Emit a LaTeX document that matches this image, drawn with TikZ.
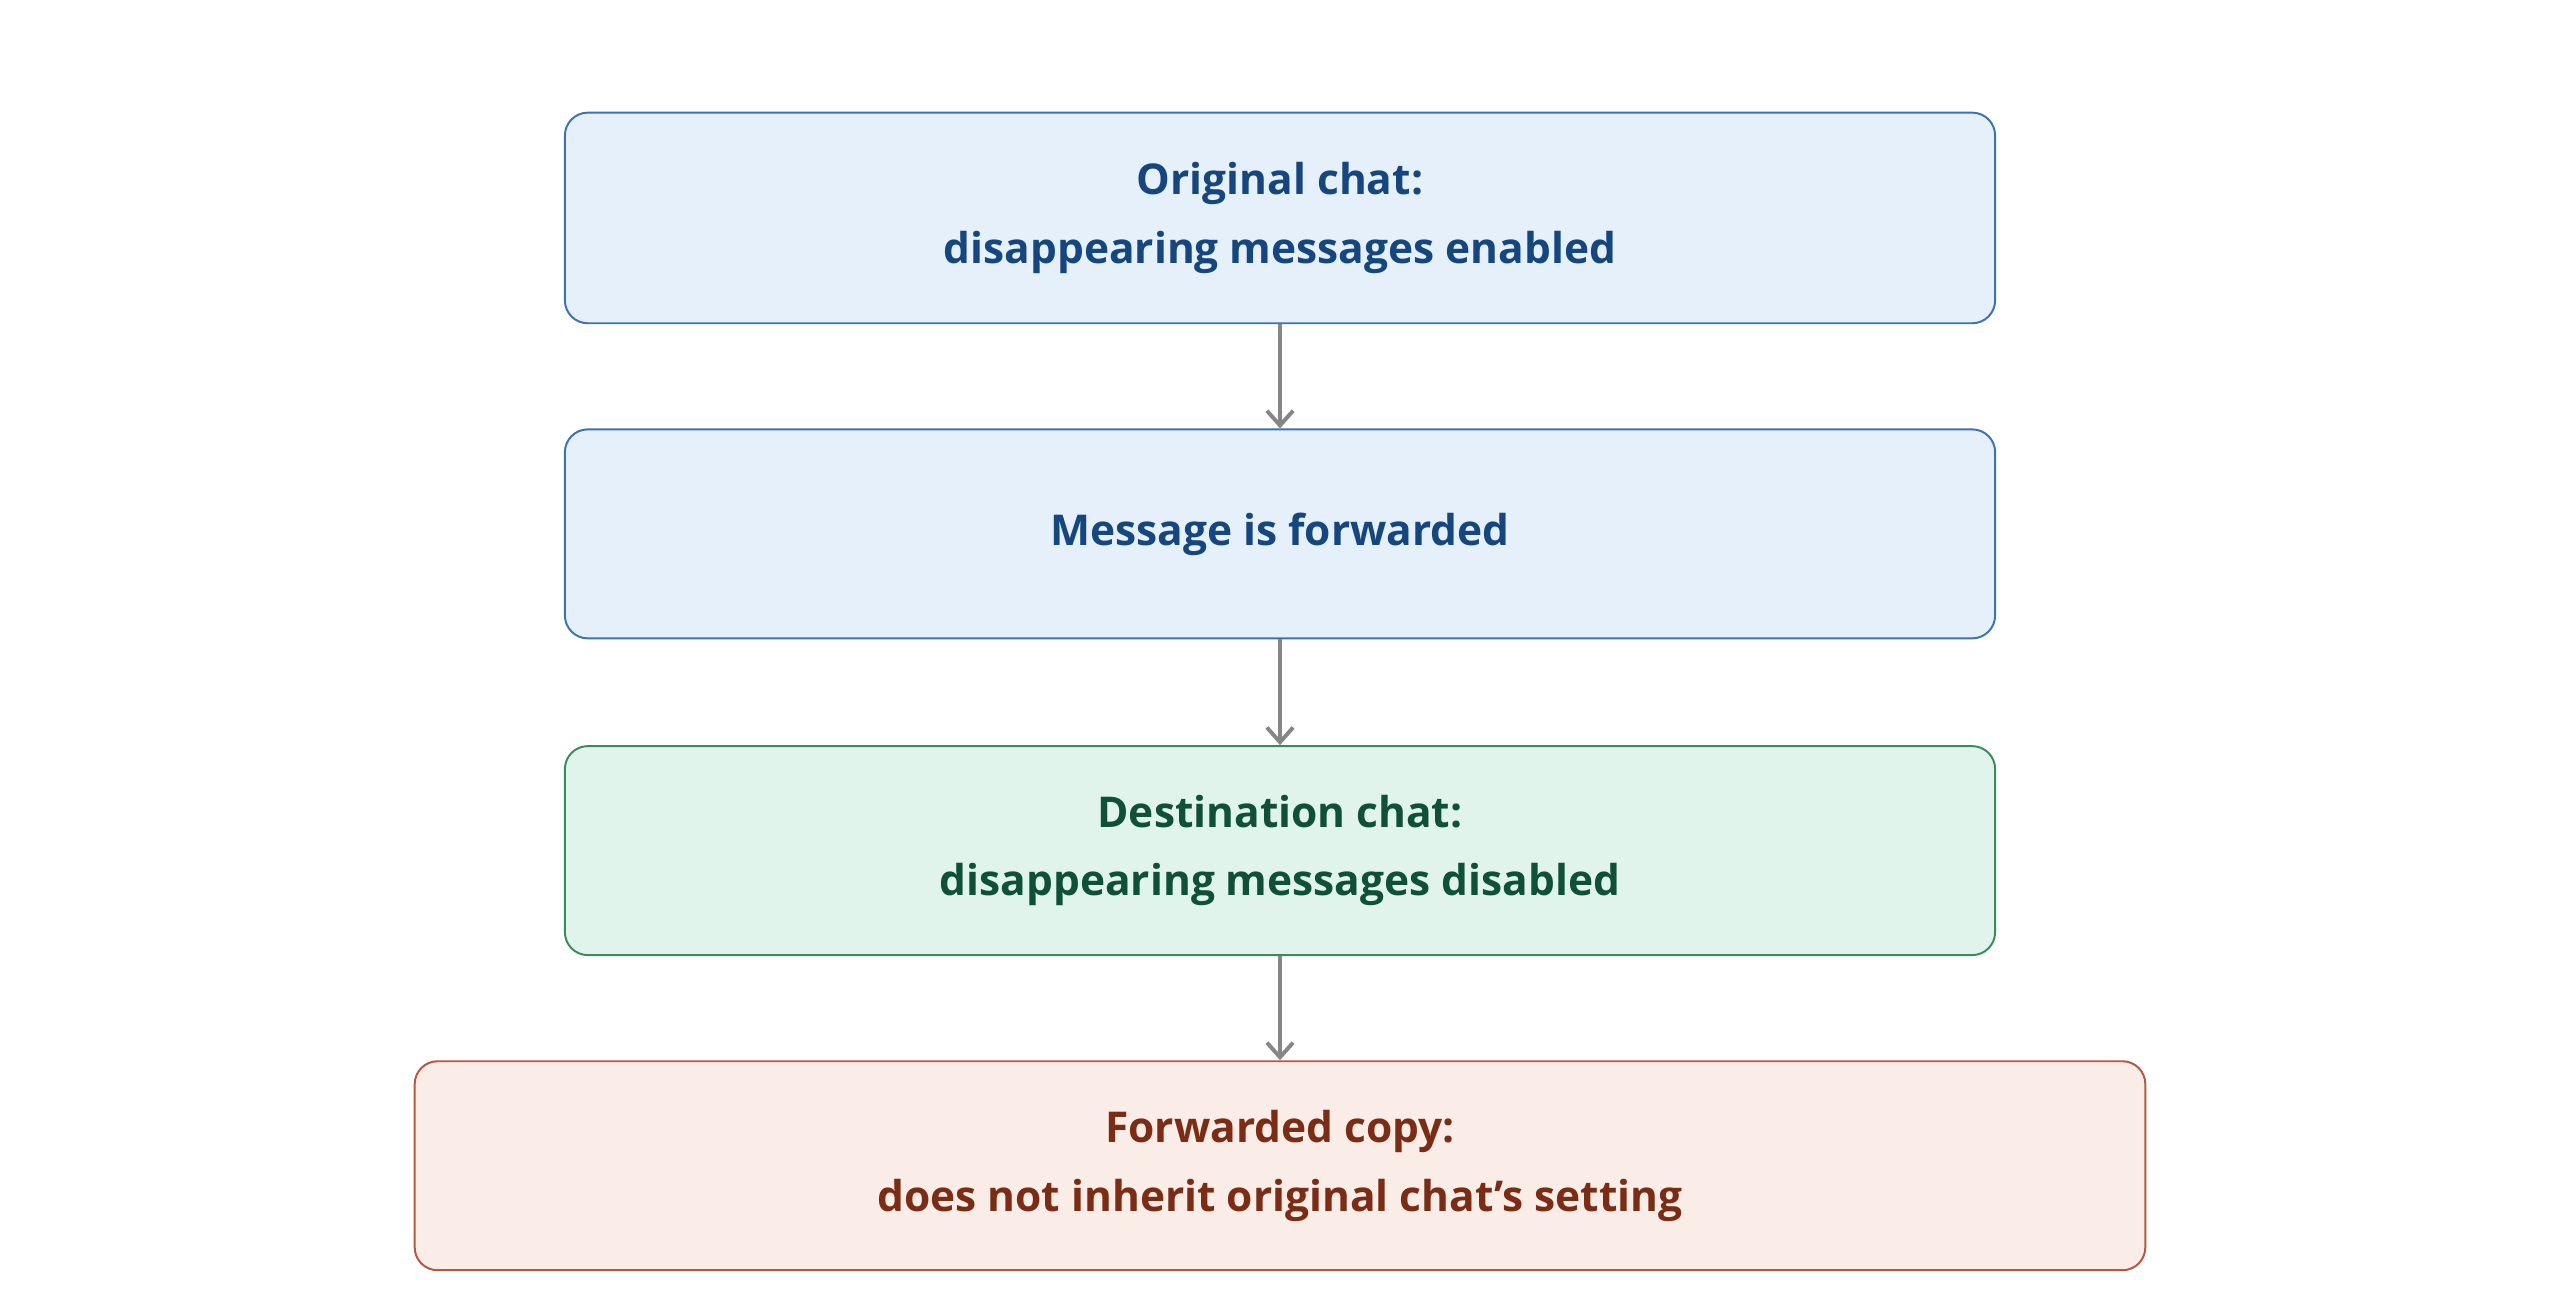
\documentclass[tikz,border=0pt]{standalone}
\usepackage{fontspec}
\setmainfont{Open Sans}
\usetikzlibrary{arrows.meta}
\definecolor{bfill}{HTML}{E6F0FA}\definecolor{bdraw}{HTML}{3A72B5}\definecolor{btext}{HTML}{15467E}
\definecolor{gfill}{HTML}{E1F4EC}\definecolor{gdraw}{HTML}{3A8A60}\definecolor{gtext}{HTML}{0E5038}
\definecolor{rfill}{HTML}{FAECE7}\definecolor{rdraw}{HTML}{B5583E}\definecolor{rtext}{HTML}{7A2C14}
\begin{document}
\begin{tikzpicture}[x=1pt,y=-1pt,
 box/.style={rounded corners=14pt,line width=1.2pt,align=center,font=\fontsize{26}{42}\selectfont\bfseries},
 blue/.style={box,fill=bfill,draw=bdraw,text=btext},
 green/.style={box,fill=gfill,draw=gdraw,text=gtext},
 red/.style={box,fill=rfill,draw=rdraw,text=rtext},
 arr/.style={draw=gray!95,line width=2.8pt,-{Straight Barb[length=9pt,width=16pt,line width=2.4pt]}}]
\useasboundingbox (0,0) rectangle (1568,802);
\node[blue,minimum width=876pt,minimum height=129pt] (a) at (784,133.5) {Original chat:\\disappearing messages enabled};
\node[blue,minimum width=876pt,minimum height=128pt] (b) at (784,327) {Message is forwarded};
\node[green,minimum width=876pt,minimum height=128pt] (c) at (784,521) {Destination chat:\\disappearing messages disabled};
\node[red,minimum width=1060pt,minimum height=128pt] (d) at (784,714) {Forwarded copy:\\does not inherit original chat's setting};
\draw[arr] (a.south) -- (b.north);
\draw[arr] (b.south) -- (c.north);
\draw[arr] (c.south) -- (d.north);
\end{tikzpicture}
\end{document}
